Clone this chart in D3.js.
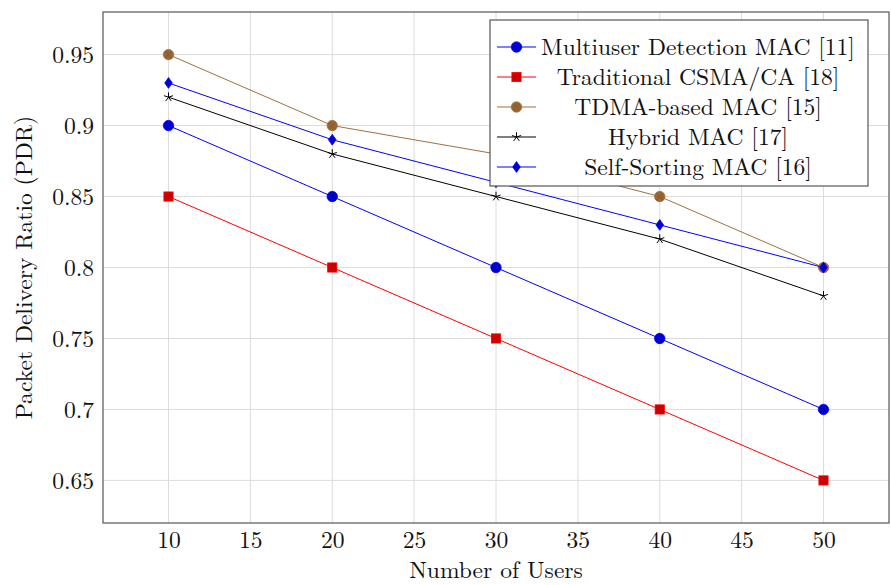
<!DOCTYPE html>
<html><head><meta charset="utf-8">
<script src="https://cdn.jsdelivr.net/npm/d3@7"></script>
<style>body{margin:0;background:#fff}</style>
</head><body><svg id="c" width="891" height="585"></svg>
<script>
const users = [10, 20, 30, 40, 50];
const multiuser = [0.90, 0.85, 0.80, 0.75, 0.70];
const csma = [0.85, 0.80, 0.75, 0.70, 0.65];
const tdma = [0.95, 0.90, 0.88, 0.85, 0.80];
const hybrid = [0.92, 0.88, 0.85, 0.82, 0.78];
const selfSorting = [0.93, 0.89, 0.86, 0.83, 0.80];
const xTicks = [10, 15, 20, 25, 30, 35, 40, 45, 50];
const yTicks = [0.65, 0.70, 0.75, 0.80, 0.85, 0.90, 0.95];
const yTickLabels = ["0.65", "0.7", "0.75", "0.8", "0.85", "0.9", "0.95"];
const seriesNames = ["Multiuser Detection MAC [11]", "Traditional CSMA/CA [18]", "TDMA-based MAC [15]", "Hybrid MAC [17]", "Self-Sorting MAC [16]"];

const series = [
  {name: seriesNames[0], values: multiuser, color: "#0000ff", fill: "#0000cc", mark: "circle"},
  {name: seriesNames[1], values: csma, color: "#ff0000", fill: "#cc0000", mark: "square"},
  {name: seriesNames[2], values: tdma, color: "#a0703f", fill: "#996633", mark: "otimes"},
  {name: seriesNames[3], values: hybrid, color: "#000000", fill: "#000000", mark: "star"},
  {name: seriesNames[4], values: selfSorting, color: "#0000ff", fill: "#0000cc", mark: "diamond"}
];

const FONT = '"Latin Modern Roman","CMU Serif","Liberation Serif",serif';
const svg = d3.select("#c");

// measure font size so legend text matches the reference width
const probe = svg.append("text").style("font-family", FONT).attr("font-size", 20).text(seriesNames[0]);
const w20 = probe.node().getComputedTextLength();
probe.remove();
const FS = w20 > 0 ? Math.min(26, Math.max(18, 20 * 314 / w20)) : 22;

const L = 103, R = 889, T = 12, B = 523;
const x = d3.scaleLinear().domain([6, 54]).range([L, R]);
const y = d3.scaleLinear().domain([0.62, 0.98]).range([B, T]);

// grid
const g = svg.append("g");
g.selectAll(".gx").data(xTicks).enter().append("line")
  .attr("x1", d => x(d)).attr("x2", d => x(d)).attr("y1", T).attr("y2", B)
  .attr("stroke", "#dcdcdc").attr("stroke-width", 1);
g.selectAll(".gy").data(yTicks).enter().append("line")
  .attr("y1", d => y(d)).attr("y2", d => y(d)).attr("x1", L).attr("x2", R)
  .attr("stroke", "#dcdcdc").attr("stroke-width", 1);

// axes (labels only)
const xAxis = d3.axisBottom(x).tickValues(xTicks).tickSize(0).tickPadding(0).tickFormat(d3.format("d"));
const xa = svg.append("g").attr("transform", `translate(0,${B})`).call(xAxis);
xa.select(".domain").remove();
xa.selectAll("text").attr("y", 25).attr("dy", 0).attr("font-size", FS).style("font-family", FONT).attr("fill", "#111");

const yAxis = d3.axisLeft(y).tickValues(yTicks).tickSize(0).tickPadding(0).tickFormat((d, i) => yTickLabels[i]);
const ya = svg.append("g").attr("transform", `translate(${L},0)`).call(yAxis);
ya.select(".domain").remove();
ya.selectAll("text").attr("x", -9).attr("dy", "0.33em").attr("font-size", FS).style("font-family", FONT).attr("fill", "#111");

// lines
const line = d3.line().x((d, i) => x(users[i])).y(d => y(d));
series.forEach(s => {
  svg.append("path").datum(s.values).attr("d", line)
    .attr("fill", "none").attr("stroke", s.color).attr("stroke-width", 1);
  const mg = svg.append("g");
  s.values.forEach((v, i) => drawMark(mg, s, x(users[i]), y(v)));
});

function drawMark(sel, s, cx, cy) {
  if (s.mark === "circle") {
    sel.append("circle").attr("cx", cx).attr("cy", cy).attr("r", 5.2).attr("fill", s.fill).attr("stroke", s.color).attr("stroke-width", 0.8);
  } else if (s.mark === "square") {
    sel.append("rect").attr("x", cx - 4.6).attr("y", cy - 4.6).attr("width", 9.2).attr("height", 9.2).attr("fill", s.fill).attr("stroke", s.color).attr("stroke-width", 0.8);
  } else if (s.mark === "otimes") {
    sel.append("circle").attr("cx", cx).attr("cy", cy).attr("r", 5.2).attr("fill", s.fill).attr("stroke", s.color).attr("stroke-width", 0.8);
    const r = 3.2;
    sel.append("path").attr("d", `M${cx-r},${cy-r}L${cx+r},${cy+r}M${cx-r},${cy+r}L${cx+r},${cy-r}`).attr("stroke", "#7a5530").attr("stroke-width", 0.7);
  } else if (s.mark === "star") {
    let d = "";
    const r = 4.8;
    for (let k = 0; k < 5; k++) {
      const a = -Math.PI / 2 + k * 2 * Math.PI / 5;
      d += `M${cx},${cy}L${cx + r * Math.cos(a)},${cy + r * Math.sin(a)}`;
    }
    sel.append("path").attr("d", d).attr("stroke", s.color).attr("stroke-width", 1).attr("fill", "none");
  } else if (s.mark === "diamond") {
    sel.append("path").attr("d", `M${cx},${cy-5.4}L${cx+3.8},${cy}L${cx},${cy+5.4}L${cx-3.8},${cy}Z`).attr("fill", s.fill).attr("stroke", s.color).attr("stroke-width", 0.8);
  }
}

// frame
svg.append("rect").attr("x", L).attr("y", T).attr("width", R - L).attr("height", B - T)
  .attr("fill", "none").attr("stroke", "#555").attr("stroke-width", 1.2);

// axis titles
svg.append("text").attr("x", (L + R) / 2).attr("y", 578).attr("text-anchor", "middle").attr("font-size", FS).style("font-family", FONT).attr("fill", "#111").text("Number of Users");
svg.append("text").attr("transform", `translate(32,${(T + B) / 2}) rotate(-90)`).attr("text-anchor", "middle").attr("font-size", FS).style("font-family", FONT).attr("fill", "#111").text("Packet Delivery Ratio (PDR)");

// legend
const lx = 490, ly = 20, lw = 378, lh = 166;
const lg = svg.append("g");
lg.append("rect").attr("x", lx).attr("y", ly).attr("width", lw).attr("height", lh)
  .attr("fill", "#fff").attr("stroke", "#555").attr("stroke-width", 1.2);
series.forEach((s, i) => {
  const cy = ly + 27 + i * 30;
  lg.append("line").attr("x1", lx + 7).attr("x2", lx + 46).attr("y1", cy).attr("y2", cy).attr("stroke", s.color).attr("stroke-width", 1);
  drawMark(lg, s, lx + 26.5, cy);
  lg.append("text").attr("x", 698).attr("y", cy + 7.5).attr("text-anchor", "middle").attr("font-size", FS).style("font-family", FONT).attr("fill", "#111").text(s.name);
});
</script></body></html>
